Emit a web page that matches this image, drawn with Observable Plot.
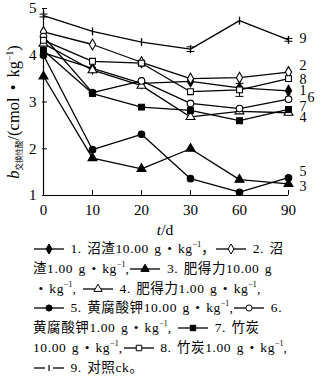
<!DOCTYPE html>
<html><head><meta charset="utf-8">
<script src="https://cdn.jsdelivr.net/npm/d3@7"></script>
<script src="https://cdn.jsdelivr.net/npm/@observablehq/plot@0.6"></script>
<style>
body{margin:0;background:#fff;width:321px;height:376px;overflow:hidden;font-family:"Liberation Serif","Noto Sans CJK SC",serif;}
#chart{position:absolute;left:0;top:0;}
#legend{position:absolute;left:33px;top:239px;font-size:13.5px;line-height:19.8px;white-space:nowrap;color:#000;letter-spacing:0.6px;word-spacing:1.5px;}
#legend sup{font-size:8px;vertical-align:6px;line-height:0;letter-spacing:0;}
#legend svg{vertical-align:-1px;}
</style></head><body><div id="chart"></div><div id="legend"></div>
<script>
const days = ["0","10","20","30","60","90"];
const seriesIds = ["1","2","3","4","5","6","7","8","9"];
const s1 = [4.05, 3.72, 3.40, 3.44, 3.30, 3.24];
const s2 = [4.50, 4.23, 3.85, 3.50, 3.52, 3.64];
const s3 = [3.55, 1.80, 1.57, 2.00, 1.34, 1.25];
const s4 = [4.25, 3.68, 3.35, 2.68, 2.80, 2.77];
const s5 = [4.00, 1.98, 2.31, 1.36, 1.07, 1.38];
const s6 = [4.40, 3.20, 3.45, 2.97, 2.86, 3.06];
const s7 = [4.10, 3.18, 2.89, 2.82, 2.60, 2.84];
const s8 = [4.32, 3.87, 3.83, 3.22, 3.26, 3.50];
const s9 = [4.85, 4.51, 4.28, 4.13, 4.74, 4.33];
const err8 = [0, 0, 0.03, 0, 0.14, 0];
const err9 = [0.03, 0, 0, 0.05, 0, 0.03];
const symbols = ["diamond","diamond","triangle","triangle","circle","circle","square","square","plus"];
const fills = ["black","white","black","white","black","white","black","white","none"];
const endLabelY = [3.22, 3.77, 1.18, 2.64, 1.50, 3.08, 2.89, 3.47, 4.33];
const endLabelDx = [11, 11, 11, 11, 11, 19, 11, 11, 11];
const yTicks = [1, 2, 3, 4, 5];
const legendNames = ["沼渣10.00 g • kg", "沼渣1.00 g • kg", "肥得力10.00 g • kg", "肥得力1.00 g • kg",
  "黄腐酸钾10.00 g • kg", "黄腐酸钾1.00 g • kg", "竹炭10.00 g • kg", "竹炭1.00 g • kg", "对照ck"];

const allSeries = [s1, s2, s3, s4, s5, s6, s7, s8, s9];
const rows = [];
allSeries.forEach((vals, si) => vals.forEach((v, di) => rows.push({s: si, day: days[di], v})));
const errRows = [];
[[7, err8], [8, err9]].forEach(([si, errs]) => errs.forEach((e, di) => {
  if (e > 0) errRows.push({day: days[di], lo: allSeries[si][di] - e, hi: allSeries[si][di] + e});
}));
const endRows = seriesIds.map((id, si) => ({id, si, y: endLabelY[si]}));
const capSymbol = {draw(ctx) { ctx.moveTo(-4, 0); ctx.lineTo(4, 0); }};
const vtickSymbol = {draw(ctx) { ctx.moveTo(0, -4); ctx.lineTo(0, 4); }};

const marks = [
  Plot.ruleY([1], {stroke: "black", strokeWidth: 1.2}),
  Plot.ruleX([days[0]], {stroke: "black", strokeWidth: 1.2}),
  Plot.axisY(yTicks, {tickSize: -5, tickPadding: 11, fontSize: 15, label: null, strokeWidth: 1}),
  Plot.axisX(days.slice(1), {tickSize: -5, tickPadding: 14, fontSize: 15, label: null}),
  Plot.axisX([days[0]], {tickSize: 0, tickPadding: 9, fontSize: 15, label: null}),
  Plot.ruleX(errRows, {x: "day", y1: "lo", y2: "hi", stroke: "black", strokeWidth: 1}),
  Plot.dot(errRows, {x: "day", y: "lo", symbol: capSymbol, stroke: "black", strokeWidth: 1}),
  Plot.dot(errRows, {x: "day", y: "hi", symbol: capSymbol, stroke: "black", strokeWidth: 1})
];
allSeries.forEach((vals, si) => {
  const data = rows.filter(r => r.s === si);
  marks.push(Plot.line(data, {x: "day", y: "v", stroke: "black", strokeWidth: 1.3}));
});
allSeries.forEach((vals, si) => {
  const data = rows.filter(r => r.s === si);
  if (si === 8) {
    marks.push(Plot.dot(data, {x: "day", y: "v", symbol: vtickSymbol, stroke: "black", strokeWidth: 1.3}));
  } else {
    marks.push(Plot.dot(data, {x: "day", y: "v", symbol: symbols[si],
      r: 3.3, fill: fills[si], stroke: "black", strokeWidth: 1.1}));
  }
});
endRows.forEach(d => {
  marks.push(Plot.text([d], {x: () => days[days.length - 1], y: "y", text: "id",
    dx: endLabelDx[d.si], textAnchor: "start", fontSize: 14, lineHeight: 0.8}));
});

const chart = Plot.plot({
  width: 321, height: 239,
  marginLeft: 42, marginRight: 33, marginTop: 8, marginBottom: 44,
  style: {fontFamily: "Liberation Serif, serif", color: "black", background: "white"},
  x: {type: "point", domain: days, padding: 0, axis: null},
  y: {domain: [1, 5], axis: null},
  marks
});
document.getElementById("chart").appendChild(chart);

const svg = d3.select(chart);
// y title
const yt = svg.append("text")
  .attr("transform", "translate(19,112) rotate(-90)")
  .attr("text-anchor", "middle")
  .attr("font-size", 16.5)
  .attr("font-family", "Liberation Serif, serif")
  .attr("word-spacing", 3);
yt.append("tspan").attr("font-style", "italic").text("b");
yt.append("tspan").attr("font-size", 7.5).attr("font-family", "Noto Sans CJK SC").attr("dy", 3).text("交换性酸");
yt.append("tspan").attr("dy", -3).text("/(cmol • kg");
yt.append("tspan").attr("font-size", 9.5).attr("dy", -6.5).text("−1");
yt.append("tspan").attr("dy", 6.5).text(")");
// x title
const xt = svg.append("text")
  .attr("x", 165).attr("y", 235)
  .attr("text-anchor", "middle").attr("font-size", 15.5)
  .attr("font-family", "Liberation Serif, serif");
xt.append("tspan").attr("font-style", "italic").text("t");
xt.append("tspan").text("/d");

// legend
function marker(si) {
  const w = 32, h = 10;
  let shape;
  if (si === 8) {
    shape = `<line x1="16" y1="2" x2="16" y2="8" stroke="black" stroke-width="1.2"/>`;
    return `<svg width="${w}" height="${h}"><line x1="1" y1="5" x2="12" y2="5" stroke="black" stroke-width="1.3"/><line x1="20" y1="5" x2="31" y2="5" stroke="black" stroke-width="1.3"/>${shape}</svg>`;
  }
  const sym = {diamond: d3.symbolDiamond, triangle: d3.symbolTriangle, circle: d3.symbolCircle, square: d3.symbolSquare}[symbols[si]];
  const p = d3.symbol(sym, 30)();
  shape = `<path transform="translate(16,5)" d="${p}" fill="${fills[si]}" stroke="black" stroke-width="1"/>`;
  return `<svg width="${w}" height="${h}"><line x1="1" y1="5" x2="31" y2="5" stroke="black" stroke-width="1.3"/>${shape}</svg>`;
}
const kg = `<sup>−1</sup>`;
const lines = [
  `${marker(0)} 1. ${legendNames[0]}${kg}，${marker(1)} 2. 沼`,
  `渣1.00 g • kg${kg},${marker(2)} 3. 肥得力10.00 g`,
  `&nbsp;• kg${kg}, ${marker(3)} 4. ${legendNames[3]}${kg},`,
  `${marker(4)} 5. ${legendNames[4]}${kg},${marker(5)} 6.`,
  `${legendNames[5]}${kg}, ${marker(6)} 7. 竹炭`,
  `10.00 g • kg${kg},${marker(7)} 8. ${legendNames[7]}${kg},`,
  `${marker(8)} 9. ${legendNames[8]}。`
];
document.getElementById("legend").innerHTML = lines.join("<br>");
</script></body></html>
